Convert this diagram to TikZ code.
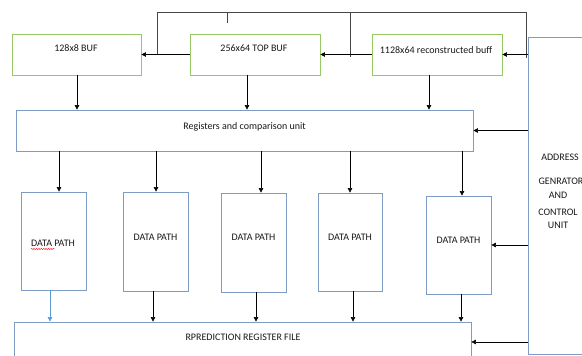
\documentclass[tikz,border=0pt]{standalone}
\usepackage{fontspec}
\setmainfont{Carlito}
\usetikzlibrary{arrows.meta,decorations.pathmorphing}
\definecolor{gbox}{RGB}{150,200,100}
\definecolor{bbox}{RGB}{125,155,195}
\definecolor{busc}{RGB}{70,70,70}
\definecolor{lblue}{RGB}{91,155,213}
\begin{document}
\begin{tikzpicture}[x=1pt,y=-1pt,
  font=\fontsize{10}{12}\selectfont,
  gb/.style={draw=gbox,line width=0.8pt,rectangle,inner sep=0pt},
  bb/.style={draw=bbox,line width=0.8pt,rectangle,inner sep=0pt},
  lbl/.style={anchor=base,inner sep=0pt,text=black!90},
  arr/.style={draw=black,line width=0.6pt,-{Triangle[length=4.5pt,width=4.5pt]}},
  busline/.style={draw=busc,line width=0.9pt}]
\path[use as bounding box] (0,0) rectangle (582,356);
\clip (0,0) rectangle (582,356);
\fill[white] (0,0) rectangle (582,356);
% boxes
\node[gb,minimum width=129pt,minimum height=41pt] (buf1) at (76.5,54.5) {};
\node[gb,minimum width=130pt,minimum height=41pt] (buf2) at (255,54.5) {};
\node[gb,minimum width=130pt,minimum height=41pt] (buf3) at (437,54.5) {};
\node[bb,minimum width=457pt,minimum height=41pt] (reg) at (244.5,130.5) {};
\node[bb,minimum width=112pt,minimum height=317pt] (addr) at (584,195.5) {};
\node[bb,minimum width=65pt,minimum height=98pt] (dp1) at (53.5,241) {};
\node[bb,minimum width=65pt,minimum height=99pt] (dp2) at (155.5,241.5) {};
\node[bb,minimum width=65pt,minimum height=99pt] (dp3) at (253.5,242.5) {};
\node[bb,minimum width=64pt,minimum height=98pt] (dp4) at (350,242) {};
\node[bb,minimum width=65pt,minimum height=98pt] (dp5) at (458.5,245) {};
\node[bb,minimum width=457pt,minimum height=40pt] (rp) at (242.5,342) {};
% texts
\node[lbl] (t1) at (76,52) {128x8 BUF};
\node[lbl] (t2) at (254,52) {256x64 TOP BUF};
\node[lbl] (t3) at (436,53) {1128x64 reconstructed buff};
\node[lbl] (treg) at (244.5,129) {Registers and comparison unit};
\node[lbl] (dt1) at (53,246) {DATA PATH};
\node[lbl] (dt2) at (155.5,240) {DATA PATH};
\node[lbl] (dt3) at (253.5,240) {DATA PATH};
\node[lbl] (dt4) at (350,240) {DATA PATH};
\node[lbl] (dt5) at (458.5,243) {DATA PATH};
\node[lbl] (trp) at (243,340) {RPREDICTION REGISTER FILE};
\node[lbl] (ta1) at (560,160) {ADDRESS};
\node[lbl] (ta2) at (561,184) {GENRATOR};
\node[lbl] (ta3) at (558,198) {AND};
\node[lbl] (ta4) at (558,215) {CONTROL};
\node[lbl] (ta5) at (558,228) {UNIT};
\draw[red,line width=0.4pt,decorate,decoration={snake,segment length=2.4pt,amplitude=0.6pt}]
  ([yshift=-3pt]dt1.base west) -- ++(24,0);
% top bus
\coordinate (bL) at (157,12);
\coordinate (bT) at (227,12);
\coordinate (bM) at (350,12);
\coordinate (bR) at (526,12);
\draw[busline] (bL) -- (bR);
\draw[busline] (bL) -- (bL |- buf1.east);
\draw[busline] (bT) -- ++(0,11);
\draw[busline] (bM) -- ++(0,45);
\draw[busline] (bR) -- ++(0,46);
% buffer links
\draw[arr] (buf2.west) -- (buf1.east);
\draw[arr] (buf3.west) -- (buf2.east);
\draw[arr] (addr.west |- buf3.east) -- (buf3.east);
% buffers to registers
\coordinate (a1) at ([xshift=0.5pt]buf1.south);
\coordinate (a2) at ([xshift=-8pt]buf2.south);
\coordinate (a3) at ([xshift=-8pt]buf3.south);
\draw[arr] (a1) -- (a1 |- reg.north);
\draw[arr] (a2) -- (a2 |- reg.north);
\draw[arr] (a3) -- (a3 |- reg.north);
\draw[arr] (addr.west |- reg.east) -- (reg.east);
% registers to data paths
\coordinate (i1) at ([xshift=5.5pt]dp1.north);
\coordinate (i2) at ([xshift=0.5pt]dp2.north);
\coordinate (i3) at ([xshift=7.5pt]dp3.north);
\coordinate (i4) at (dp4.north);
\coordinate (i5) at ([xshift=3.5pt]dp5.north);
\foreach \c in {i1,i2,i3,i4,i5} \draw[arr] (reg.south -| \c) -- (\c);
\draw[arr] (addr.west |- dp5.east) -- (dp5.east);
% data paths to prediction file
\coordinate (o1) at ([xshift=-3.5pt]dp1.south);
\coordinate (o2) at ([xshift=-2.5pt]dp2.south);
\coordinate (o3) at ([xshift=2.5pt]dp3.south);
\coordinate (o4) at ([xshift=3pt]dp4.south);
\coordinate (o5) at ([xshift=2.5pt]dp5.south);
\draw[arr,draw=lblue] (o1) -- (o1 |- rp.north);
\foreach \c in {o2,o3,o4,o5} \draw[arr] (\c) -- (\c |- rp.north);
\draw[arr] (addr.west |- rp.east) -- (rp.east);
\end{tikzpicture}
\end{document}
